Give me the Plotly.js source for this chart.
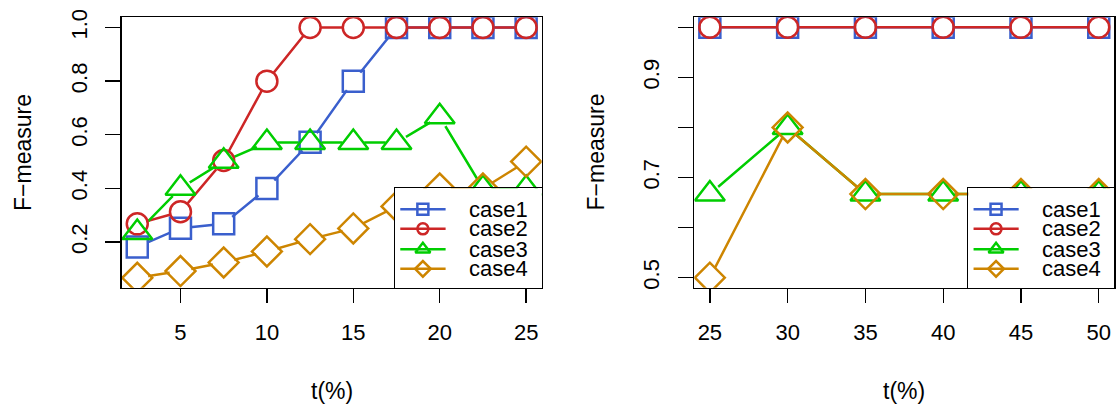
<!DOCTYPE html>
<html><head><meta charset="utf-8">
<script src="https://cdn.plot.ly/plotly-3.0.1.min.js"></script>
<style>html,body{margin:0;padding:0;background:#fff}</style>
</head><body><div id="chart" style="width:1120px;height:409px"></div>
<script>
// ---- data ----
const caseNames = ['case1', 'case2', 'case3', 'case4'];
const tLeft = [2.5, 5, 7.5, 10, 12.5, 15, 17.5, 20, 22.5, 25];
const case1Left = [0.182, 0.252, 0.268, 0.4, 0.572, 0.8, 1, 1, 1, 1];
const case2Left = [0.268, 0.313, 0.504, 0.8, 1, 1, 1, 1, 1, 1];
const case3Left = [0.236, 0.401, 0.501, 0.571, 0.571, 0.571, 0.571, 0.667, 0.4, 0.4];
const case4Left = [0.067, 0.092, 0.124, 0.165, 0.211, 0.251, 0.333, 0.4, 0.4, 0.5];
const tRight = [25, 30, 35, 40, 45, 50];
const case1Right = [1, 1, 1, 1, 1, 1];
const case2Right = [1, 1, 1, 1, 1, 1];
const case3Right = [0.667, 0.8, 0.667, 0.667, 0.667, 0.667];
const case4Right = [0.5, 0.8, 0.667, 0.667, 0.667, 0.667];
const xTicksLeft = [5, 10, 15, 20, 25];
const yTicksLeft = [0.2, 0.4, 0.6, 0.8, 1.0];
const yTickTextLeft = ['0.2', '0.4', '0.6', '0.8', '1.0'];
const xTicksRight = [25, 30, 35, 40, 45, 50];
const yTicksRight = [0.5, 0.6, 0.7, 0.8, 0.9, 1.0];
const yTickTextRight = ['0.5', '', '0.7', '', '0.9', ''];
const xTitle = 't(%)';
const yTitle = 'F\u2212measure';

// ---- styles ----
const colors = ['#3A5FCD', '#CD2626', '#00CD00', '#CD8500'];
const symbols = ['square-open', 'circle-open', 'triangle-up-open', 'diamond-open'];
const sizes = [21, 21, 26, 23];
const legendSizes = [11, 11, 13, 12];
const FONT = 'Liberation Sans, Arial, Helvetica, sans-serif';
const LW = 2.5;

const leftSeries = [case1Left, case2Left, case3Left, case4Left];
const rightSeries = [case1Right, case2Right, case3Right, case4Right];

const traces = [];
function panel(xs, seriesList, xa, ya) {
  // lines
  seriesList.forEach((ys, i) => traces.push({
    x: xs, y: ys, xaxis: xa, yaxis: ya, mode: 'lines', showlegend: false,
    line: {color: colors[i], width: LW}, hoverinfo: 'skip'
  }));
  // gaps around points (type = "b")
  seriesList.forEach((ys, i) => traces.push({
    x: xs, y: ys, xaxis: xa, yaxis: ya, mode: 'markers', showlegend: false,
    marker: {symbol: 'circle', size: 22, color: '#ffffff', line: {width: 0}}, hoverinfo: 'skip'
  }));
  // open markers
  seriesList.forEach((ys, i) => traces.push({
    x: xs, y: ys, xaxis: xa, yaxis: ya, mode: 'markers', showlegend: false, name: caseNames[i],
    marker: {symbol: symbols[i], size: sizes[i], color: colors[i], line: {color: colors[i], width: LW}}
  }));
}
panel(tLeft, leftSeries, 'x', 'y');
panel(tRight, rightSeries, 'x2', 'y2');

// legend boxes as inset subplots
const rowsY = [0.79, 0.592, 0.387, 0.19];
const annotations = [];
[['x3', 'y3'], ['x4', 'y4']].forEach(([xa, ya]) => {
  caseNames.forEach((nm, i) => {
    traces.push({
      x: [0.036, 0.345], y: [rowsY[i], rowsY[i]], xaxis: xa, yaxis: ya, mode: 'lines',
      showlegend: false, line: {color: colors[i], width: LW}, hoverinfo: 'skip'
    });
    traces.push({
      x: [0.19], y: [rowsY[i]], xaxis: xa, yaxis: ya, mode: 'markers', showlegend: false,
      marker: {symbol: symbols[i], size: legendSizes[i], color: colors[i], line: {color: colors[i], width: LW}},
      hoverinfo: 'skip'
    });
    annotations.push({
      xref: xa, yref: ya, x: 0.49, y: rowsY[i], xanchor: 'left', yanchor: 'middle',
      text: nm, showarrow: false, font: {family: FONT, size: 22, color: '#000'}
    });
  });
});

const W = 1120, H = 409;
const yDom = [1 - 287.7 / H, 1 - 17.3 / H];
const leftDom = [121.7 / W, 541.7 / W];
const rightDom = [694.3 / W, 1114.3 / W];

function xAxis(domain, range, tickvals, anchor) {
  return {
    domain: domain, range: range, anchor: anchor, tickvals: tickvals,
    ticks: 'outside', ticklen: 14, tickwidth: 1.3, tickcolor: '#000',
    showline: true, mirror: true, linecolor: '#000', linewidth: 1.3,
    showgrid: false, zeroline: false, fixedrange: true,
    tickfont: {family: FONT, size: 22, color: '#000'}, ticklabelstandoff: 11
  };
}
function yAxis(domain, range, tickvals, ticktext, anchor) {
  return {
    domain: domain, range: range, anchor: anchor, tickvals: tickvals, ticktext: ticktext,
    tickmode: 'array', tickangle: -90,
    ticks: 'outside', ticklen: 15, tickwidth: 1.3, tickcolor: '#000',
    showline: true, mirror: true, linecolor: '#000', linewidth: 1.3,
    showgrid: false, zeroline: false, fixedrange: true,
    tickfont: {family: FONT, size: 22, color: '#000'}, ticklabelstandoff: 10
  };
}
function boxAxis(domain, anchor) {
  return {
    domain: domain, range: [0, 1], anchor: anchor, showline: true, mirror: true,
    linecolor: '#000', linewidth: 1.3, ticks: '', showticklabels: false,
    showgrid: false, zeroline: false, fixedrange: true
  };
}

const legY = [yDom[0], 1 - 188.3 / H];
annotations.push(
  {xref: 'paper', yref: 'paper', x: (leftDom[0] + leftDom[1]) / 2, y: 1 - 391 / H,
   xanchor: 'center', yanchor: 'middle', text: xTitle, showarrow: false,
   font: {family: FONT, size: 23, color: '#000'}},
  {xref: 'paper', yref: 'paper', x: (rightDom[0] + rightDom[1]) / 2, y: 1 - 391 / H,
   xanchor: 'center', yanchor: 'middle', text: xTitle, showarrow: false,
   font: {family: FONT, size: 23, color: '#000'}},
  {xref: 'paper', yref: 'paper', x: 22.5 / W, y: (yDom[0] + yDom[1]) / 2, textangle: -90,
   xanchor: 'center', yanchor: 'middle', text: yTitle, showarrow: false,
   font: {family: FONT, size: 23, color: '#000'}},
  {xref: 'paper', yref: 'paper', x: 595 / W, y: (yDom[0] + yDom[1]) / 2, textangle: -90,
   xanchor: 'center', yanchor: 'middle', text: yTitle, showarrow: false,
   font: {family: FONT, size: 23, color: '#000'}}
);

const layout = {
  width: W, height: H, margin: {l: 0, r: 0, t: 0, b: 0},
  paper_bgcolor: '#fff', plot_bgcolor: '#fff', showlegend: false,
  font: {family: FONT, color: '#000'},
  xaxis: xAxis(leftDom, [1.6, 25.9], xTicksLeft, 'y'),
  yaxis: yAxis(yDom, [0.03, 1.038], yTicksLeft, yTickTextLeft, 'x'),
  xaxis2: xAxis(rightDom, [24, 51], xTicksRight, 'y2'),
  yaxis2: yAxis(yDom, [0.48, 1.02], yTicksRight, yTickTextRight, 'x2'),
  xaxis3: boxAxis([395 / W, leftDom[1]], 'y3'),
  yaxis3: boxAxis(legY, 'x3'),
  xaxis4: boxAxis([968.3 / W, rightDom[1]], 'y4'),
  yaxis4: boxAxis(legY, 'x4'),
  annotations: annotations
};

Plotly.newPlot('chart', traces, layout, {staticPlot: true, displayModeBar: false});
</script>
</body></html>
